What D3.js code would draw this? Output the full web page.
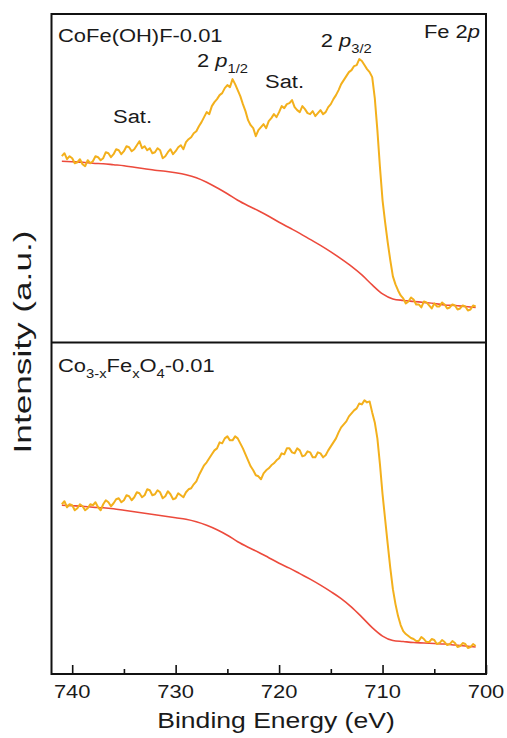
<!DOCTYPE html>
<html><head><meta charset="utf-8">
<script src="https://cdn.jsdelivr.net/npm/d3@7"></script>
<style>
html,body{margin:0;padding:0;background:#fff;}
svg{display:block;}
text{font-family:"Liberation Sans",Arial,sans-serif;fill:#1a1a1a;}
</style></head>
<body>
<svg id="chart" width="507" height="738"></svg>
<script>
// ---- data ----
// Orange spectra sampled every 0.25 eV from 741 to 701 eV
const spectrumEnergies = d3.range(741, 700.99, -0.25);
const topSpectrum = [
186,189,183,186, 184,179,180,183, 178,176,182,179, 181,186,185,182, 184,190,189,185,
188,193,192,188, 191,196,195,191, 193,197,201,194, 196,192,194,189, 190,194,192,184,
186,190,193,188, 191,195,197,193, 200,203,205,209, 211,216,220,225, 230,228,236,240,
243,247,249,254, 257,255,263,258, 252,246,238,231, 222,217,214,206, 212,215,218,214,
221,224,228,225, 230,236,234,238, 239,242,235,232, 230,236,233,229, 228,231,226,229,
232,228,230,235, 238,243,247,252, 258,262,266,270, 272,276,277,283, 281,277,273,270,
265,244,212,175, 142,120,100,82, 66,58,52,47, 44,39,41,45, 43,38,38,35,
41,40,37,34, 39,36,36,40, 38,34,35,38, 37,33,34,37, 36,32,33,37, 36];
const bottomSpectrum = [
170,173,167,170, 169,164,166,170, 168,164,166,170, 169,172,167,164, 170,174,172,168,
171,175,176,172, 174,179,178,174, 177,182,181,177, 179,185,184,179, 180,184,182,176,
178,183,180,175, 176,181,179,177, 182,185,186,190, 193,199,204,209, 212,216,220,224,
226,232,231,236, 238,234,234,238, 236,231,226,220, 214,208,204,199, 198,195,201,204,
206,209,211,214, 216,221,220,226, 226,222,221,226, 224,218,219,223, 222,217,217,222,
221,217,219,224, 228,232,236,242, 247,250,253,258, 261,264,266,271, 270,274,272,273,
262,252,236,210, 180,155,130,106, 85,70,58,49, 43,40,38,36, 35,33,33,37,
35,32,32,35, 34,30,31,34, 32,29,30,33, 31,27,28,31, 30,26,27,30, 28];
// Red backgrounds sampled every 1 eV from 741 to 701 eV
const backgroundEnergies = d3.range(741, 700.99, -1);
const topBackground = [181,180.5,180,179,178.5,177.5,176.5,175,173.5,172,171,169.5,167.5,164.5,160,154.5,148.5,142,136.5,131.5,126,120,114.5,109,103,97,90.5,83.5,76,67.5,57.5,48.5,43.5,42,41,40,39,37.5,37,36,35];
const bottomBackground = [169,168.5,168,167,166.5,165.5,164,162.5,161,159.5,158,156.5,155,152.5,149,144.5,139,132.5,127,122,116.5,111,106,100.5,95,89,82.5,75.5,67,57,46.5,38,33.5,32.5,31.5,31,30.5,30,29,28,27];
const majorTicks = [740,730,720,710,700];
const minorTicks = [735,725,715,705];
const xDomain = [742, 700];

// ---- layout ----
const svg = d3.select("#chart");
const L = 51.5, R = 486, T = 14, MID = 342.5, B = 674;
const SX = 1.18; // horizontal stretch of lettering
const orange = "#F3B01C", red = "#EC4A3C";

const x = d3.scaleLinear().domain(xDomain).range([L, R]);
const yTop = d3.scaleLinear().domain([0, 328]).range([MID, T]);
const yBot = d3.scaleLinear().domain([0, 332]).range([B, MID]);

function drawLine(energies, vals, yScale, color, w, curve){
  const n = Math.min(energies.length, vals.length);
  const data = d3.range(n).map(i=>[energies[i], vals[i]]);
  svg.append("path").datum(data)
    .attr("fill","none").attr("stroke",color).attr("stroke-width",w)
    .attr("stroke-linejoin","round")
    .attr("d", d3.line().x(d=>x(d[0])).y(d=>yScale(d[1])).curve(curve));
}

drawLine(backgroundEnergies, topBackground, yTop, red, 1.6, d3.curveMonotoneX);
drawLine(spectrumEnergies, topSpectrum, yTop, orange, 2.0, d3.curveLinear);
drawLine(backgroundEnergies, bottomBackground, yBot, red, 1.6, d3.curveMonotoneX);
drawLine(spectrumEnergies, bottomSpectrum, yBot, orange, 2.0, d3.curveLinear);

// frame + divider
svg.append("rect").attr("x",L).attr("y",T).attr("width",R-L).attr("height",B-T)
  .attr("fill","none").attr("stroke","#111").attr("stroke-width",2);
svg.append("line").attr("x1",L).attr("x2",R).attr("y1",MID).attr("y2",MID)
  .attr("stroke","#111").attr("stroke-width",2);

// bottom axis with inward ticks
const axis = d3.axisBottom(x).tickValues(majorTicks).tickSizeInner(-9).tickSizeOuter(0).tickFormat(d3.format("d"));
const gAx = svg.append("g").attr("transform",`translate(0,${B})`).call(axis);
gAx.select(".domain").remove();
gAx.selectAll(".tick line").attr("stroke","#111").attr("stroke-width",1.6);
gAx.selectAll(".tick text").remove();
const minorAxis = d3.axisBottom(x).tickValues(minorTicks).tickSizeInner(-5).tickSizeOuter(0).tickFormat("");
const gMin = svg.append("g").attr("transform",`translate(0,${B})`).call(minorAxis);
gMin.select(".domain").remove();
gMin.selectAll(".tick line").attr("stroke","#111").attr("stroke-width",1.6);
// tick labels (stretched)
majorTicks.forEach(t=>{
  svg.append("text").attr("transform",`translate(${x(t)},698) scale(${SX},1)`)
    .attr("text-anchor","middle").attr("font-size",18.6).text(t);
});

function label(px, py, size, anchor){
  return svg.append("text").attr("transform",`translate(${px},${py}) scale(${SX},1)`)
    .attr("text-anchor",anchor||"start").attr("font-size",size);
}
// axis titles
label(276, 728, 22.5, "middle").text("Binding Energy (eV)");
svg.append("text").attr("transform",`translate(31,342) rotate(-90) scale(1.6,1.1)`)
  .attr("text-anchor","middle").attr("font-size",22).text("Intensity (a.u.)");

// panel labels
label(58, 41.7, 18.6).text("CoFe(OH)F-0.01");
const fe = label(480, 38.3, 18.6, "end");
fe.append("tspan").text("Fe 2");
fe.append("tspan").attr("font-style","italic").text("p");

function peakLabel(px, py, sub){
  const t = label(px, py, 18.6);
  t.append("tspan").text("2 ");
  t.append("tspan").attr("font-style","italic").text("p");
  t.append("tspan").attr("font-size",12.5).attr("dy",6.5).text(sub);
}
peakLabel(320.7, 46.5, "3/2");
peakLabel(197, 66.7, "1/2");
label(113, 123.3, 18.6).text("Sat.");
label(265, 88.3, 18.6).text("Sat.");

const co = label(58, 371.7, 18.6);
co.append("tspan").text("Co");
co.append("tspan").attr("font-size",12.5).attr("dy",6).text("3-x");
co.append("tspan").attr("dy",-6).text("Fe");
co.append("tspan").attr("font-size",12.5).attr("dy",6).text("x");
co.append("tspan").attr("dy",-6).text("O");
co.append("tspan").attr("font-size",12.5).attr("dy",6).text("4");
co.append("tspan").attr("dy",-6).text("-0.01");
</script>
</body></html>
